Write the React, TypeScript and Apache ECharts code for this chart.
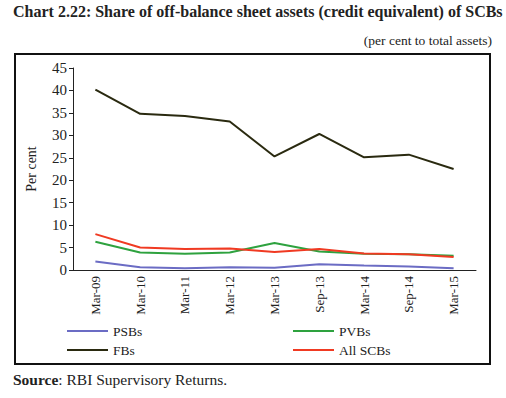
import React, { useEffect, useRef } from "react";
import * as echarts from "echarts";

const categories = ["Mar-09", "Mar-10", "Mar-11", "Mar-12", "Mar-13", "Sep-13", "Mar-14", "Sep-14", "Mar-15"];
const psbs = [1.9, 0.6, 0.4, 0.6, 0.5, 1.3, 1.0, 0.8, 0.4];
const pvbs = [6.3, 3.9, 3.6, 3.9, 6.0, 4.1, 3.6, 3.5, 3.2];
const fbs = [40.2, 34.8, 34.3, 33.1, 25.3, 30.3, 25.1, 25.7, 22.5];
const allScbs = [8.0, 5.0, 4.7, 4.8, 4.0, 4.7, 3.7, 3.5, 2.9];

const FONT = "'Liberation Serif', serif";

export default function App() {
  const ref = useRef<HTMLDivElement>(null);
  useEffect(() => {
    if (!ref.current) return;
    const chart = echarts.init(ref.current, null, { renderer: "svg" });
    const mk = (name: string, data: number[], color: string) => ({
      name,
      type: "line",
      data,
      symbol: "none",
      lineStyle: { color, width: 2 },
      itemStyle: { color },
    });
    chart.setOption({
      animation: false,
      backgroundColor: "#fff",
      textStyle: { fontFamily: FONT },
      graphic: [
        {
          type: "text",
          left: 13,
          top: 3,
          style: {
            text: "Chart 2.22: Share of off-balance sheet assets (credit equivalent) of SCBs",
            font: `bold 16px ${FONT}`,
            fill: "#222",
          },
        },
        {
          type: "text",
          right: 14,
          top: 33,
          style: { text: "(per cent to total assets)", font: `13.5px ${FONT}`, fill: "#222" },
        },
        {
          type: "rect",
          shape: { x: 15, y: 54, width: 475, height: 310 },
          style: { fill: "none", stroke: "#111", lineWidth: 2 },
        },
        {
          type: "text",
          left: 13,
          top: 371,
          style: {
            text: "{b|Source}: RBI Supervisory Returns.",
            font: `15.5px ${FONT}`,
            fill: "#222",
            rich: { b: { font: `bold 15.5px ${FONT}`, fill: "#222" } },
          },
        },
      ],
      grid: { left: 73, right: 30, top: 68, bottom: 128 },
      xAxis: {
        type: "category",
        data: categories,
        boundaryGap: true,
        axisLine: { lineStyle: { color: "#222", width: 1 } },
        axisTick: { length: 5, lineStyle: { color: "#222" } },
        axisLabel: { rotate: 90, fontSize: 13, color: "#222", fontFamily: FONT, margin: 6 },
      },
      yAxis: {
        type: "value",
        min: 0,
        max: 45,
        interval: 5,
        name: "Per cent",
        nameLocation: "middle",
        nameGap: 35,
        nameTextStyle: { fontSize: 14, color: "#222", fontFamily: FONT },
        axisLine: { show: true, lineStyle: { color: "#222", width: 1 } },
        axisTick: { show: true, length: 4, lineStyle: { color: "#222" } },
        axisLabel: { fontSize: 15, color: "#222", fontFamily: FONT, margin: 6 },
        splitLine: { show: false },
      },
      legend: [
        {
          orient: "vertical",
          left: 62,
          top: 319,
          itemWidth: 41,
          itemHeight: 2,
          itemGap: 5,
          icon: "rect",
          data: ["PSBs", "FBs"],
          textStyle: { fontSize: 13.5, color: "#222", fontFamily: FONT },
        },
        {
          orient: "vertical",
          left: 288,
          top: 319,
          itemWidth: 41,
          itemHeight: 2,
          itemGap: 5,
          icon: "rect",
          data: ["PVBs", "All SCBs"],
          textStyle: { fontSize: 13.5, color: "#222", fontFamily: FONT },
        },
      ],
      series: [
        mk("PSBs", psbs, "#6b6cc4"),
        mk("PVBs", pvbs, "#2ea23f"),
        mk("FBs", fbs, "#2a2a10"),
        mk("All SCBs", allScbs, "#f03a22"),
      ],
    });
    return () => chart.dispose();
  }, []);
  return <div ref={ref} style={{ position: "absolute", left: 0, top: 0, width: 506, height: 398 }} />;
}
